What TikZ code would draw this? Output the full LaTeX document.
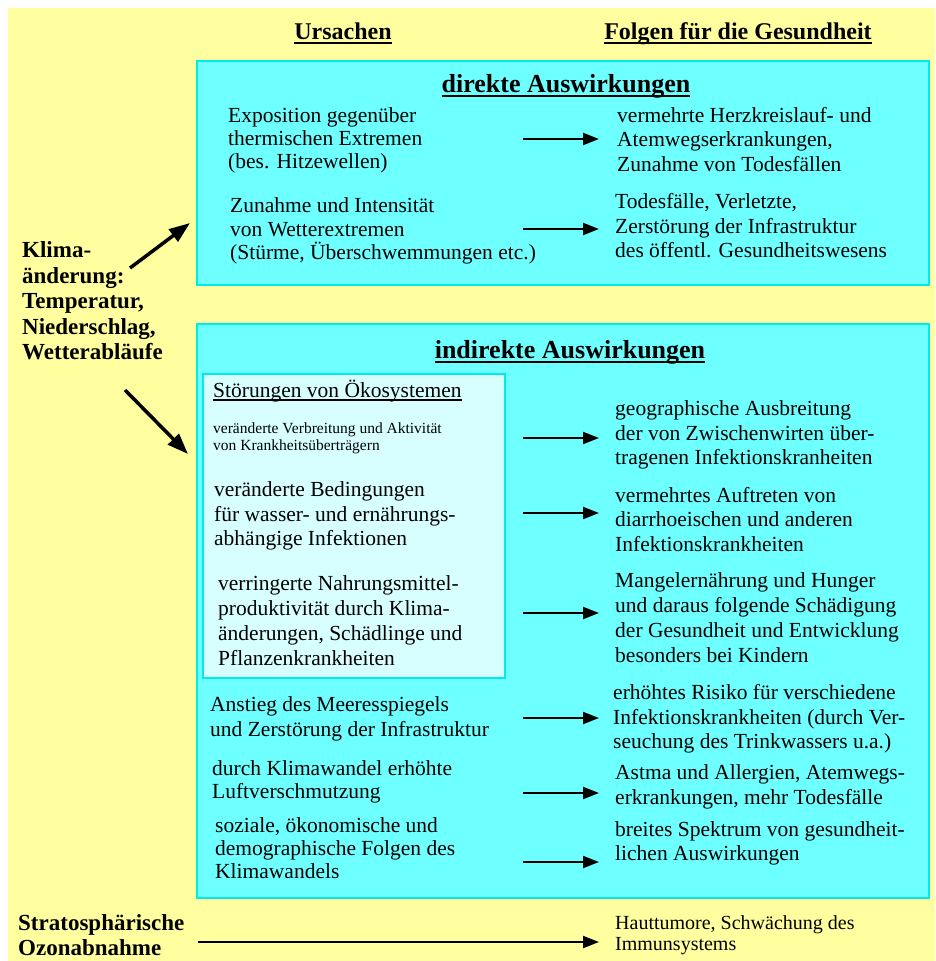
\documentclass[tikz,border=0pt]{standalone}
\usepackage{fontspec}
\setmainfont{Liberation Serif}
\usetikzlibrary{arrows.meta}

\definecolor{bgyellow}{RGB}{255,255,160}
\definecolor{boxcyan}{RGB}{110,255,255}
\definecolor{pale}{RGB}{215,255,255}
\definecolor{edge}{RGB}{0,235,235}

% underline with a rule of our own thickness and offset
\newcommand\ulin[2][-5pt]{\setbox0=\hbox{#2}\leavevmode\rlap{\rule[#1]{\wd0}{1.6pt}}\box0}

\tikzset{
  body/.style={font=\fontsize{21.5}{24.5}\selectfont, align=left, inner sep=0pt, anchor=west},
  lbody/.style={body, font=\fontsize{21.5}{23.2}\selectfont},
  small/.style={body, font=\fontsize{15.5}{17}\selectfont},
  note/.style={body, font=\fontsize{20}{21}\selectfont},
  hdr/.style={font=\bfseries\fontsize{24}{28}\selectfont, inner sep=0pt, anchor=base},
  ttl/.style={font=\bfseries\fontsize{26}{30}\selectfont, inner sep=0pt, anchor=base},
  cause/.style={font=\bfseries\fontsize{23}{25.5}\selectfont, align=left, inner sep=0pt, anchor=west},
  arr/.style={line width=2pt, -{Triangle[length=16pt,width=12pt]}},
  bigarr/.style={line width=3.5pt, -{Triangle[length=21pt,width=15pt]}},
  panel/.style={draw=edge, line width=2pt, fill=boxcyan},
  subpanel/.style={draw=edge, line width=2pt, fill=pale},
}

\begin{document}
\begin{tikzpicture}[x=1pt,y=-1pt]
\useasboundingbox (0,0) rectangle (935,961);
\fill[white] (0,0) rectangle (935,961);
\fill[bgyellow] (8,8) rectangle (935,961);

% column headings
\node[hdr] (hcause) at (343,39) {\ulin{Ursachen}};
\node[hdr] (heffect) at (738,39) {\ulin{Folgen für die Gesundheit}};

% panels
\draw[panel] (197,61) rectangle (929,285);
\draw[panel] (197,324) rectangle (929,898);
\draw[subpanel] (203,374) rectangle (505,678);

% direct effects
\node[ttl] (tdir) at (566,92) {\ulin{direkte Auswirkungen}};
\node[lbody] (d1l) at (228,140.5) {Exposition gegenüber\\thermischen Extremen\\(bes. Hitzewellen)};
\node[body] (d1r) at (617,139.5) {vermehrte Herzkreislauf- und\\Atemwegserkrankungen,\\Zunahme von Todesfällen};
\node[lbody] (d2l) at (230,231) {Zunahme und Intensität\\von Wetterextremen\\(Stürme, Überschwemmungen etc.)};
\node[body] (d2r) at (615,226) {Todesfälle, Verletzte,\\Zerstörung der Infrastruktur\\des öffentl. Gesundheitswesens};

% indirect effects
\node[ttl] (tind) at (570,358) {\ulin{indirekte Auswirkungen}};
\node[body, anchor=base west] (eco) at (213,397) {\ulin[-4pt]{Störungen von Ökosystemen}};
\node[small] (i1l) at (213,438.5) {veränderte Verbreitung und Aktivität\\von Krankheitsüberträgern};
\node[body] (i1r) at (615,435) {geographische Ausbreitung\\der von Zwischenwirten über-\\tragenen Infektionskranheiten};
\node[body] (i2l) at (214,516) {veränderte Bedingungen\\für wasser- und ernährungs-\\abhängige Infektionen};
\node[body] (i2r) at (615,519.5) {vermehrtes Auftreten von\\diarrhoeischen und anderen\\Infektionskrankheiten};
\node[body, font=\fontsize{21.5}{25}\selectfont] (i3l) at (218,620.5) {verringerte Nahrungsmittel-\\produktivität durch Klima-\\änderungen, Schädlinge und\\Pflanzenkrankheiten};
\node[body, font=\fontsize{21.5}{25}\selectfont] (i3r) at (615,617.5) {Mangelernährung und Hunger\\und daraus folgende Schädigung\\der Gesundheit und Entwicklung\\besonders bei Kindern};
\node[body] (i4l) at (210,719) {Anstieg des Meeresspiegels\\und Zerstörung der Infrastruktur};
\node[body] (i4r) at (613,719) {erhöhtes Risiko für verschiedene\\Infektionskrankheiten (durch Ver-\\seuchung des Trinkwassers u.a.)};
\node[lbody] (i5l) at (212,781.5) {durch Klimawandel erhöhte\\Luftverschmutzung};
\node[body] (i5r) at (615,787) {Astma und Allergien, Atemwegs-\\erkrankungen, mehr Todesfälle};
\node[lbody] (i6l) at (215,848) {soziale, ökonomische und\\demographische Folgen des\\Klimawandels};
\node[body] (i6r) at (615,843.5) {breites Spektrum von gesundheit-\\lichen Auswirkungen};

% causes outside the panels
\node[cause] (klima) at (22,301) {Klima-\\änderung:\\Temperatur,\\Niederschlag,\\Wetterabläufe};
\node[cause, font=\bfseries\fontsize{23}{24.5}\selectfont] (ozon) at (18,935) {Stratosphärische\\Ozonabnahme};
\node[note] (ozr) at (615,935.5) {Hauttumore, Schwächung des\\Immunsystems};

% arrow end points
\coordinate (ku0) at (130,268); \coordinate (ku1) at (190,223);
\coordinate (kd0) at (125,390); \coordinate (kd1) at (188,454);
\foreach \n/\y in {a1/139, a2/229, b1/438, b2/513, b3/613, b4/718, b5/793, b6/862}{
  \coordinate (\n s) at (523,\y);
  \coordinate (\n e) at (599,\y);
}
\coordinate (oz0) at (198,942); \coordinate (oz1) at (599,942);

\draw[bigarr] (ku0) -- (ku1);
\draw[bigarr] (kd0) -- (kd1);
\foreach \n in {a1,a2,b1,b2,b3,b4,b5,b6}{
  \draw[arr] (\n s) -- (\n e);
}
\draw[arr] (oz0) -- (oz1);
\end{tikzpicture}
\end{document}
